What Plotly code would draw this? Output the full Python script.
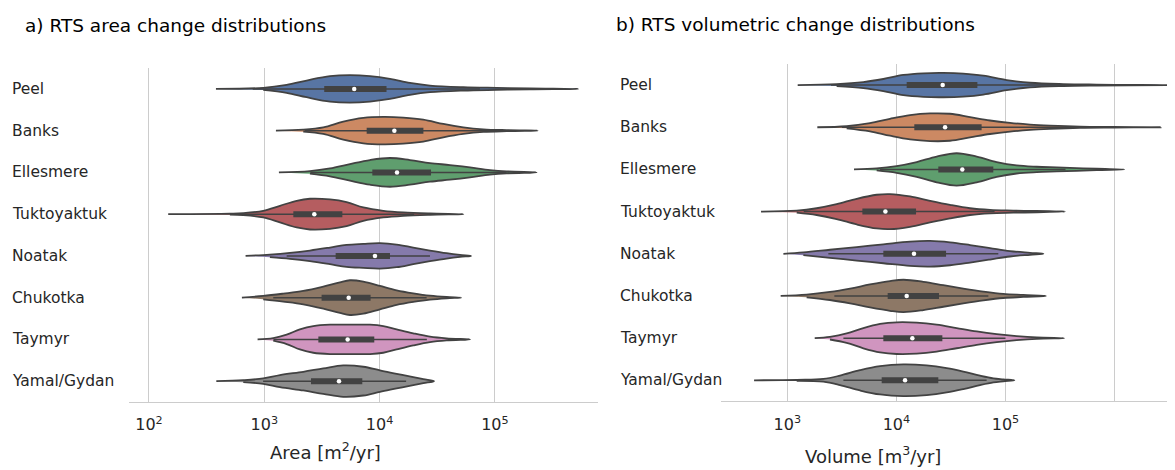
import numpy as np
import plotly.graph_objects as go

regions = ["Peel", "Banks", "Ellesmere", "Tuktoyaktuk", "Noatak", "Chukotka", "Taymyr", "Yamal/Gydan"]

# ---- a) area change: density profiles (log10 of m2/yr, relative density) ----
area_kde_log = [
    [2.581, 2.991, 3.194, 3.367, 3.570, 3.743, 3.917, 4.090, 4.263, 4.437, 4.726, 5.015, 5.304, 5.723],
    [3.101, 3.338, 3.512, 3.685, 3.859, 4.032, 4.206, 4.379, 4.553, 4.726, 4.899, 5.102, 5.371],
    [3.127, 3.396, 3.570, 3.743, 3.917, 4.090, 4.263, 4.437, 4.610, 4.784, 4.957, 5.102, 5.362],
    [2.167, 2.702, 2.818, 2.991, 3.136, 3.281, 3.396, 3.570, 3.714, 3.859, 4.032, 4.206, 4.437, 4.726],
    [2.838, 3.049, 3.223, 3.396, 3.570, 3.714, 3.859, 4.003, 4.148, 4.292, 4.437, 4.581, 4.697, 4.793],
    [2.806, 2.991, 3.165, 3.338, 3.512, 3.656, 3.743, 3.859, 4.003, 4.148, 4.292, 4.437, 4.581, 4.706],
    [2.942, 3.078, 3.194, 3.309, 3.425, 3.570, 3.743, 3.917, 4.032, 4.148, 4.292, 4.437, 4.581, 4.784],
    [2.584, 2.818, 2.991, 3.136, 3.338, 3.512, 3.685, 3.859, 4.003, 4.148, 4.292, 4.379, 4.472],
]
area_kde_den = [
    [0, .06, .24, .50, .76, .82, .76, .60, .36, .20, .10, .06, .03, 0],
    [0, .06, .20, .54, .76, .82, .78, .66, .40, .20, .08, .03, 0],
    [0, .08, .24, .50, .74, .86, .74, .56, .44, .30, .14, .06, 0],
    [0, .03, .06, .20, .50, .80, .92, .88, .72, .40, .20, .10, .04, 0],
    [0, .08, .18, .32, .50, .66, .72, .76, .68, .50, .32, .16, .06, 0],
    [0, .10, .24, .40, .66, .92, 1.04, .96, .70, .44, .26, .12, .04, 0],
    [0, .08, .28, .60, .80, .88, .88, .88, .80, .60, .36, .16, .06, 0],
    [0, .06, .16, .36, .56, .76, .94, .86, .64, .44, .24, .12, 0],
]
area_whisk_lo = [2.90, 3.35, 3.40, 2.75, 3.194, 3.078, 3.08, 2.99]
area_q1 = [3.52, 3.888, 3.937, 3.252, 3.619, 3.497, 3.469, 3.405]
area_median = [3.78, 4.128, 4.151, 3.434, 3.96, 3.732, 3.723, 3.648]
area_q3 = [4.06, 4.38, 4.446, 3.677, 4.09, 3.922, 3.954, 3.85]
area_whisk_hi = [4.87, 5.05, 5.10, 4.30, 4.437, 4.408, 4.41, 4.23]

# ---- b) volumetric change: density profiles (log10 of m3/yr, relative density) ----
vol_kde_log = [
    [3.095, 3.452, 3.697, 3.880, 4.064, 4.247, 4.430, 4.613, 4.797, 5.011, 5.225, 5.530, 5.836, 6.486],
    [3.275, 3.544, 3.758, 3.941, 4.125, 4.308, 4.491, 4.675, 4.858, 5.041, 5.225, 5.408, 5.683, 5.988, 6.422],
    [3.611, 3.819, 4.002, 4.186, 4.369, 4.552, 4.736, 4.919, 5.102, 5.286, 5.469, 5.652, 5.836, 6.089],
    [2.759, 3.086, 3.269, 3.452, 3.636, 3.819, 3.941, 4.125, 4.308, 4.491, 4.675, 4.858, 5.072, 5.545],
    [2.964, 3.147, 3.391, 3.636, 3.880, 4.125, 4.308, 4.491, 4.675, 4.858, 5.041, 5.225, 5.347],
    [2.939, 3.177, 3.391, 3.575, 3.758, 3.941, 4.064, 4.247, 4.430, 4.613, 4.797, 4.980, 5.163, 5.371],
    [3.251, 3.391, 3.544, 3.697, 3.850, 4.002, 4.186, 4.369, 4.552, 4.736, 4.919, 5.102, 5.286, 5.536],
    [2.695, 3.086, 3.330, 3.483, 3.666, 3.850, 4.064, 4.277, 4.461, 4.613, 4.766, 4.889, 4.980, 5.081],
]
vol_kde_den = [
    [0, .06, .18, .36, .60, .70, .72, .68, .56, .30, .14, .06, .03, 0],
    [0, .06, .24, .50, .72, .82, .80, .60, .40, .26, .16, .10, .04, .02, 0],
    [0, .06, .20, .44, .76, .96, .76, .44, .24, .16, .12, .08, .04, 0],
    [0, .06, .20, .44, .76, 1.00, 1.04, .90, .64, .40, .20, .10, .06, 0],
    [0, .08, .24, .40, .56, .72, .76, .68, .52, .34, .16, .06, 0],
    [0, .08, .24, .44, .68, .88, .96, .84, .64, .44, .26, .12, .06, 0],
    [0, .08, .28, .60, .84, .94, .92, .80, .60, .40, .24, .12, .04, 0],
    [0, .03, .08, .28, .60, .84, .94, .88, .72, .52, .28, .12, .06, 0],
]
vol_whisk_lo = [3.40, 3.50, 3.85, 3.15, 3.376, 3.431, 3.514, 3.514]
vol_q1 = [4.094, 4.164, 4.384, 3.688, 3.88, 3.92, 3.88, 3.865]
vol_median = [4.424, 4.446, 4.604, 3.899, 4.161, 4.094, 4.146, 4.079]
vol_q3 = [4.742, 4.781, 4.888, 4.18, 4.455, 4.39, 4.421, 4.384]
vol_whisk_hi = [5.70, 5.70, 5.55, 4.90, 4.934, 4.843, 5.00, 4.827]

area_ticks = [1e2, 1e3, 1e4, 1e5]
area_ticktext = ["10<sup>2</sup>", "10<sup>3</sup>", "10<sup>4</sup>", "10<sup>5</sup>"]
vol_ticks = [1e3, 1e4, 1e5, 1e6]
vol_ticktext = ["10<sup>3</sup>", "10<sup>4</sup>", "10<sup>5</sup>", ""]

colors = ["#5875A4", "#CC8963", "#5F9E6E", "#B55D60", "#857AAB", "#8D7866", "#D095BF", "#8C8C8C"]
EDGE = "#424242"
HALF = 0.4
FONT = "DejaVu Sans"
TXT = "#262626"

# the page places the figure 8 px from the top-left corner
OFF = 8
W, H = 1175 - OFF, 470 - OFF


def px(x):
    return (x - OFF) / W


def py(y):
    return 1 - (y - OFF) / H


fig = go.Figure()


def add_panel(kde_log, kde_den, wlo, q1, med, q3, whi, xa, ya):
    for i in range(len(regions)):
        lx = np.array(kde_log[i])
        d = np.array(kde_den[i]) * HALF
        xs = np.concatenate([lx, lx[-2:0:-1]])
        ys = np.concatenate([i - d, (i + d)[-2:0:-1]])
        fig.add_trace(go.Scatter(
            x=10 ** xs, y=ys, mode="lines", fill="toself", fillcolor=colors[i],
            line=dict(color=EDGE, width=1.8, shape="spline", smoothing=1.0),
            xaxis=xa, yaxis=ya, showlegend=False, hoverinfo="skip"))
        fig.add_trace(go.Scatter(
            x=[10 ** wlo[i], 10 ** whi[i]], y=[i, i], mode="lines",
            line=dict(color=EDGE, width=1.5), xaxis=xa, yaxis=ya,
            showlegend=False, hoverinfo="skip"))
        fig.add_trace(go.Scatter(
            x=[10 ** q1[i], 10 ** q3[i]], y=[i, i], mode="lines",
            line=dict(color=EDGE, width=6), xaxis=xa, yaxis=ya,
            showlegend=False, hoverinfo="skip"))
        fig.add_trace(go.Scatter(
            x=[10 ** med[i]], y=[i], mode="markers",
            marker=dict(color="white", size=4.5, line=dict(width=0)),
            xaxis=xa, yaxis=ya, showlegend=False, hoverinfo="skip"))


add_panel(area_kde_log, area_kde_den, area_whisk_lo, area_q1, area_median, area_q3, area_whisk_hi, "x", "y")
add_panel(vol_kde_log, vol_kde_den, vol_whisk_lo, vol_q1, vol_median, vol_q3, vol_whisk_hi, "x2", "y2")

common_x = dict(type="log", showgrid=True, gridcolor="#cccccc", gridwidth=1,
                showline=True, linecolor="#cccccc", linewidth=1.3, zeroline=False,
                ticks="", ticklabelstandoff=8, tickfont=dict(family=FONT, size=16, color=TXT))
common_y = dict(range=[7.5, -0.5], showgrid=False, showticklabels=False,
                zeroline=False, showline=False, ticks="")

fig.update_layout(
    width=W, height=H, margin=dict(l=0, r=0, t=0, b=0),
    plot_bgcolor="white", paper_bgcolor="white", showlegend=False,
    font=dict(family=FONT, color=TXT),
    xaxis=dict(common_x, domain=[px(129), px(598)], range=[1.827, 5.894],
               tickvals=area_ticks, ticktext=area_ticktext, anchor="y"),
    yaxis=dict(common_y, domain=[py(402), py(68)], anchor="x"),
    xaxis2=dict(common_x, domain=[px(721), 1.0], range=[2.392, 6.5536],
                tickvals=vol_ticks, ticktext=vol_ticktext, anchor="y2"),
    yaxis2=dict(common_y, domain=[py(401.4), py(64)], anchor="x2"),
)

ann = []
for i, r in enumerate(regions):
    ann.append(dict(text=r, x=px(10), xref="paper", y=i, yref="y", xanchor="left",
                    yanchor="middle", showarrow=False, font=dict(family=FONT, size=15.5, color=TXT)))
    ann.append(dict(text=r, x=px(618), xref="paper", y=i, yref="y2", xanchor="left",
                    yanchor="middle", showarrow=False, font=dict(family=FONT, size=15.5, color=TXT)))
ann.append(dict(text="a) RTS area change distributions", x=px(23), xref="paper",
                y=py(25), yref="paper", xanchor="left", yanchor="middle",
                showarrow=False, font=dict(family=FONT, size=18.5, color="black")))
ann.append(dict(text="b) RTS volumetric change distributions", x=px(614), xref="paper",
                y=py(24), yref="paper", xanchor="left", yanchor="middle",
                showarrow=False, font=dict(family=FONT, size=18.5, color="black")))
ann.append(dict(text="Area [m<sup>2</sup>/yr]", x=px(326), xref="paper",
                y=py(451), yref="paper", xanchor="center", yanchor="middle",
                showarrow=False, font=dict(family=FONT, size=18, color=TXT)))
ann.append(dict(text="Volume [m<sup>3</sup>/yr]", x=px(873), xref="paper",
                y=py(455), yref="paper", xanchor="center", yanchor="middle",
                showarrow=False, font=dict(family=FONT, size=18, color=TXT)))
fig.update_layout(annotations=ann)

fig.write_html("out.html")
